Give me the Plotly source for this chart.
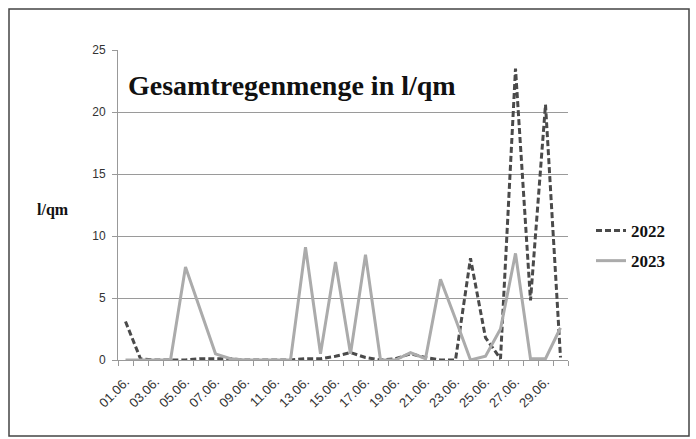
import plotly.graph_objects as go

days = [f"{d:02d}.06." for d in range(1, 31)]
tick_labels = [lab if i % 2 == 0 else "" for i, lab in enumerate(days)]

rain_2022 = [3.1, 0.1, 0, 0, 0, 0.1, 0.1, 0.1, 0, 0,
             0, 0, 0.1, 0.1, 0.3, 0.6, 0.2, 0, 0.1, 0.5,
             0.2, 0, 0, 8.2, 1.8, 0.1, 23.5, 4.8, 20.6, 0.2]
rain_2023 = [0, 0, 0, 0, 7.5, 4.0, 0.5, 0.1, 0, 0,
             0, 0, 9.1, 0.5, 7.9, 0.5, 8.5, 0, 0, 0.6,
             0.1, 6.5, 3.3, 0, 0.3, 2.5, 8.6, 0.1, 0.1, 2.6]

y_ticks = [0, 5, 10, 15, 20, 25]

L, R, T, B = 118, 128, 50, 79
W, H = 696, 439
pw, ph = W - L - R, H - T - B

def px(x):
    return (x - L) / pw

def py(y):
    return (H - B - y) / ph

fig = go.Figure()
fig.add_trace(go.Scatter(
    x=days, y=rain_2022, mode="lines", name="2022", legendgroup="a",
    line=dict(color="#4a4a4a", width=3, dash="6px,3px"),
))
fig.add_trace(go.Scatter(
    x=days, y=rain_2023, mode="lines", name="2023", legendgroup="b",
    line=dict(color="#ababab", width=3),
))

serif = "Liberation Serif, Times New Roman, serif"
sans = "Liberation Sans, Arial, sans-serif"

fig.update_layout(
    width=W, height=H,
    margin=dict(l=L, r=R, t=T, b=B),
    paper_bgcolor="white", plot_bgcolor="white",
    showlegend=True,
    legend=dict(
        x=px(591), y=py(213), xanchor="left", yanchor="top",
        font=dict(family=serif, size=17, color="#111111", weight="bold"),
        tracegroupgap=5, traceorder="grouped",
        bgcolor="rgba(0,0,0,0)",
    ),
    xaxis=dict(
        type="category", tickmode="array", tickvals=days, ticktext=tick_labels,
        range=[-0.5, len(days) - 0.5],
        tickson="boundaries", ticks="outside", ticklen=5, tickcolor="#999999",
        tickangle=-45, showline=True, linecolor="#999999", linewidth=1,
        showgrid=False, zeroline=False, ticklabelstandoff=8,
        tickfont=dict(family=sans, size=13, color="#333333"),
    ),
    yaxis=dict(
        range=[0, 25], tickvals=y_ticks, ticks="outside", ticklen=5,
        tickcolor="#999999", showline=True, linecolor="#999999", linewidth=1,
        showgrid=True, gridcolor="#9a9a9a", gridwidth=1, zeroline=False,
        tickfont=dict(family=sans, size=12, color="#333333"),
        ticklabelstandoff=4,
    ),
    annotations=[
        dict(text="<b>Gesamtregenmenge in l/qm</b>", xref="paper", yref="paper",
             x=px(126), y=py(86), xanchor="left", yanchor="middle",
             showarrow=False, font=dict(family=serif, size=28, color="#111111")),
        dict(text="<b>l/qm</b>", xref="paper", yref="paper",
             x=px(35), y=py(210), xanchor="left", yanchor="middle",
             showarrow=False, font=dict(family=serif, size=16, color="#111111")),
    ],
    shapes=[
        dict(type="rect", xref="paper", yref="paper",
             x0=px(9), x1=px(689), y0=py(436), y1=py(9),
             line=dict(color="#444444", width=1.5), fillcolor="rgba(0,0,0,0)",
             layer="below"),
    ],
)

fig.write_html("out.html", config={"displayModeBar": False},
               post_script="document.body.style.margin='0px';")
